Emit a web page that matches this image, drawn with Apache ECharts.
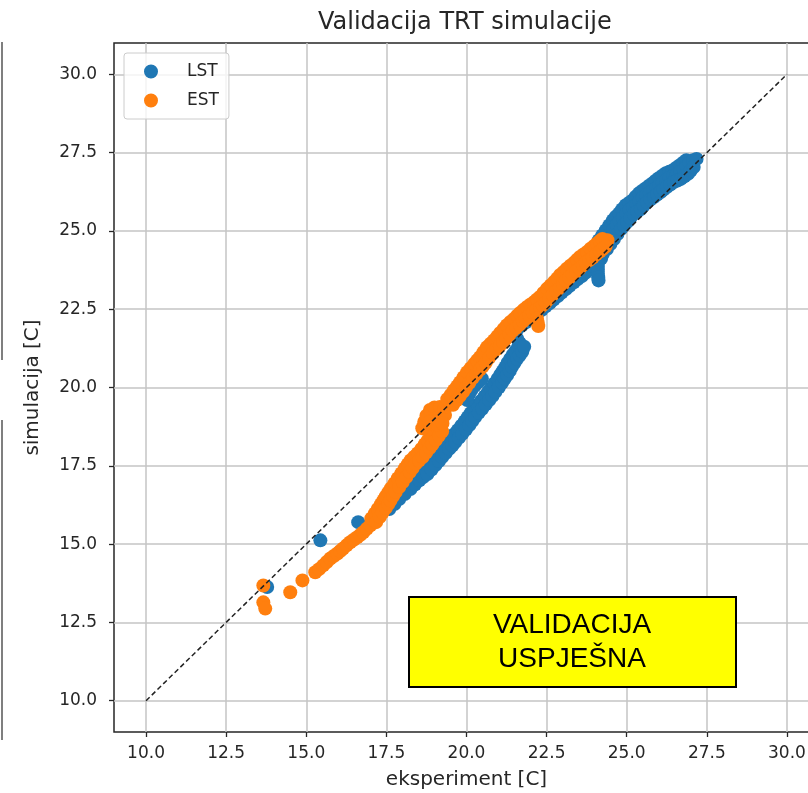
<!DOCTYPE html>
<html>
<head>
<meta charset="utf-8">
<script src="https://cdn.jsdelivr.net/npm/echarts@6/dist/echarts.min.js"></script>
<style>
  html, body { margin: 0; padding: 0; background: #fff; }
  #chart { width: 808px; height: 793px; }
</style>
</head>
<body>
<div id="chart"></div>
<script>
// tick values on both axes
const tickValues = [10, 12.5, 15, 17.5, 20, 22.5, 25, 27.5, 30];

// LST points [eksperiment, simulacija]
const lstSingles = [[13.78, 13.63], [15.44, 15.12], [16.62, 15.70]];
const lstLowerA = [
  [17.45,16.24],[17.61,16.40],[17.76,16.56],[17.93,16.72],[18.11,16.88],[18.25,17.02],[18.39,17.16],
  [18.51,17.26],[18.64,17.36],[18.77,17.50],[18.89,17.64],[19.00,17.77],[19.10,17.90],[19.21,18.03],
  [19.32,18.16],[19.42,18.27],[19.51,18.38],[19.62,18.51],[19.73,18.64],[19.84,18.78],[19.95,18.92],
  [20.04,19.05],[20.13,19.18],[20.24,19.31],[20.35,19.44],[20.46,19.58],[20.57,19.72],[20.67,19.85],
  [20.76,19.98],[20.87,20.13],[20.97,20.27],[21.05,20.40],[21.13,20.52],[21.21,20.65],[21.28,20.78],
  [21.36,20.91],[21.44,21.04],[21.52,21.15],[21.60,21.26],[21.66,21.42],[21.58,21.56]
];
const lstLowerB = [
  [17.59,16.12],[17.75,16.28],[17.90,16.44],[18.07,16.60],[18.25,16.76],[18.39,16.90],[18.53,17.04],
  [18.65,17.14],[18.78,17.24],[18.91,17.38],[19.03,17.52],[19.14,17.65],[19.24,17.78],[19.35,17.91],
  [19.46,18.04],[19.56,18.15],[19.65,18.26],[19.76,18.39],[19.87,18.52],[19.98,18.66],[20.09,18.80],
  [20.18,18.93],[20.27,19.06],[20.38,19.19],[20.49,19.32],[20.60,19.46],[20.71,19.60],[20.81,19.73],
  [20.90,19.86],[21.01,20.01],[21.11,20.15],[21.19,20.28],[21.27,20.40],[21.35,20.53],[21.42,20.66],
  [21.50,20.79],[21.58,20.92],[21.66,21.03],[21.74,21.14],[21.80,21.30]
];
const lstLobe = [[20.02,19.60],[20.08,19.78],[20.15,19.92],[20.25,20.05],[20.38,20.18],[20.48,20.28]];
const lstMiddle = [
  [21.35,21.65],[21.47,21.77],[21.60,21.88],[21.72,21.98],[21.85,22.08],[21.97,22.18],[22.10,22.28],
  [22.22,22.38],[22.35,22.48],[22.47,22.59],[22.60,22.70],[22.72,22.81],[22.85,22.92],[22.97,23.03],
  [23.10,23.14],[23.22,23.25],[23.35,23.36],[23.47,23.46],[23.60,23.56],[23.72,23.67],[23.85,23.78],
  [23.97,23.88],[24.10,23.98],[24.20,24.12],[24.25,24.26]
];
const lstDrop = [[24.10,23.88],[24.10,23.76],[24.10,23.64],[24.11,23.52],[24.12,23.42]];
const lstUpperA = [
  [24.13,24.70],[24.24,24.86],[24.35,25.02],[24.46,25.18],[24.57,25.34],[24.66,25.45],[24.76,25.56],
  [24.86,25.69],[24.97,25.82],[25.08,25.90],[25.19,25.98],[25.28,26.09],[25.38,26.20],[25.49,26.28],
  [25.60,26.36],[25.70,26.44],[25.81,26.52],[25.90,26.60],[26.00,26.68],[26.11,26.76],[26.22,26.84],
  [26.33,26.89],[26.44,26.94],[26.55,27.02],[26.66,27.10],[26.76,27.18],[26.86,27.26]
];
const lstUpperC = [
  [24.25,24.56],[24.36,24.72],[24.47,24.88],[24.58,25.04],[24.69,25.20],[24.78,25.31],[24.88,25.42],
  [24.98,25.55],[25.09,25.68],[25.20,25.76],[25.31,25.84],[25.40,25.95],[25.50,26.06],[25.61,26.14],
  [25.72,26.22],[25.82,26.30],[25.93,26.38],[26.02,26.46],[26.12,26.54],[26.23,26.62],[26.34,26.70],
  [26.45,26.75],[26.56,26.80],[26.67,26.88],[26.78,26.96],[26.87,27.07],[26.96,27.18],[27.07,27.26],
  [27.18,27.30]
];
const lstUpperB = [
  [24.38,24.42],[24.49,24.58],[24.60,24.74],[24.71,24.90],[24.82,25.06],[24.91,25.17],[25.01,25.28],
  [25.11,25.41],[25.22,25.54],[25.33,25.62],[25.44,25.70],[25.53,25.81],[25.63,25.92],[25.74,26.00],
  [25.85,26.08],[25.95,26.16],[26.06,26.24],[26.15,26.32],[26.25,26.40],[26.36,26.48],[26.47,26.56],
  [26.58,26.61],[26.69,26.66],[26.80,26.74],[26.91,26.82],[27.00,26.93],[27.09,27.04]
];

// EST points [eksperiment, simulacija]
const estSingles = [
  [13.66,13.68],[13.66,13.14],[13.72,12.94],[14.50,13.46],[14.88,13.84],[15.28,14.10],
  [15.40,14.20],[15.53,14.32],[15.64,14.43],[15.75,14.54],[15.86,14.62],[15.97,14.70],
  [16.06,14.78],[16.15,14.86],[16.26,14.96]
];
const estLowerC = [
  [16.37,15.06],[16.48,15.14],[16.59,15.22],[16.69,15.30],[16.78,15.38],[16.89,15.49],[17.00,15.60],
  [17.10,15.76],[17.21,15.92],[17.30,16.06],[17.40,16.21],[17.48,16.34],[17.55,16.46],[17.63,16.59],
  [17.71,16.72],[17.82,16.88],[17.93,17.04],[18.04,17.20],[18.15,17.36],[18.24,17.49],[18.33,17.62],
  [18.44,17.73],[18.55,17.84],[18.66,17.98],[18.77,18.13],[18.86,18.25],[18.96,18.38],[19.06,18.52],
  [19.16,18.66]
];
const estLowerA = [
  [17.03,15.82],[17.14,15.98],[17.23,16.12],[17.33,16.27],[17.41,16.40],[17.48,16.52],[17.56,16.65],
  [17.64,16.78],[17.75,16.94],[17.86,17.10],[17.97,17.26],[18.08,17.42],[18.17,17.55],[18.26,17.68],
  [18.37,17.79],[18.48,17.90],[18.59,18.04],[18.70,18.19],[18.79,18.31],[18.89,18.44],[18.99,18.58],
  [19.09,18.72]
];
const estLowerB = [
  [17.18,15.70],[17.29,15.86],[17.38,16.00],[17.48,16.15],[17.56,16.28],[17.63,16.40],[17.71,16.53],
  [17.79,16.66],[17.90,16.82],[18.01,16.98],[18.12,17.14],[18.23,17.30],[18.32,17.43],[18.41,17.56],
  [18.52,17.67],[18.63,17.78],[18.74,17.92],[18.85,18.07],[18.94,18.19],[19.04,18.32],[19.14,18.46],
  [19.24,18.60]
];
const estBlob = [
  [18.62,18.70],[18.68,18.90],[18.75,19.10],[18.86,19.28],[19.00,19.36],[19.17,19.38],[19.30,19.30],
  [19.33,19.12],[19.20,19.00],[19.00,19.00],[18.85,18.90],[19.10,18.80],[19.25,18.85]
];
const estUpperC = [
  [19.38,19.40],[19.49,19.54],[19.60,19.68],[19.70,19.82],[19.80,19.95],[19.89,20.08],[20.00,20.24],
  [20.11,20.40],[20.22,20.53],[20.33,20.66],[20.42,20.77],[20.51,20.88],[20.62,21.04],[20.73,21.20],
  [20.84,21.31],[20.95,21.42],[21.05,21.54],[21.14,21.65],[21.25,21.78],[21.35,21.90],[21.46,22.00],
  [21.57,22.10],[21.67,22.20],[21.76,22.29],[21.87,22.39],[21.98,22.48],[22.09,22.56],[22.20,22.64],
  [22.29,22.72],[22.38,22.80],[22.49,22.93],[22.60,23.06],[22.71,23.17],[22.82,23.28],[22.92,23.39],
  [23.01,23.50],[23.12,23.60],[23.22,23.70],[23.33,23.80],[23.44,23.89],[23.54,23.99],[23.63,24.08],
  [23.74,24.16],[23.85,24.24],[23.96,24.34],[24.07,24.43],[24.16,24.51],[24.25,24.59],[24.33,24.65],
  [24.40,24.70]
];
const estUpperA = [
  [19.40,19.63],[19.51,19.77],[19.61,19.91],[19.71,20.04],[19.80,20.17],[19.91,20.33],[20.02,20.49],
  [20.13,20.62],[20.24,20.75],[20.33,20.86],[20.42,20.97],[20.53,21.13],[20.64,21.29],[20.75,21.40],
  [20.86,21.51],[20.96,21.63],[21.05,21.74],[21.16,21.87],[21.26,21.99],[21.37,22.09],[21.48,22.19],
  [21.58,22.29],[21.67,22.38],[21.78,22.48],[21.89,22.57],[22.00,22.65],[22.11,22.73],[22.20,22.81],
  [22.29,22.89],[22.40,23.02],[22.51,23.15],[22.62,23.26],[22.73,23.37],[22.83,23.48],[22.92,23.59],
  [23.03,23.69],[23.13,23.79],[23.24,23.89],[23.35,23.98],[23.45,24.08],[23.54,24.17],[23.65,24.25],
  [23.76,24.33],[23.87,24.43],[23.98,24.52],[24.07,24.60],[24.16,24.68],[24.24,24.74]
];
const estUpperB = [
  [19.58,19.45],[19.69,19.59],[19.79,19.73],[19.89,19.86],[19.98,19.99],[20.09,20.15],[20.20,20.31],
  [20.31,20.44],[20.42,20.57],[20.51,20.68],[20.60,20.79],[20.71,20.95],[20.82,21.11],[20.93,21.22],
  [21.04,21.33],[21.14,21.45],[21.23,21.56],[21.34,21.69],[21.44,21.81],[21.55,21.91],[21.66,22.01],
  [21.76,22.11],[21.85,22.20],[21.96,22.30],[22.07,22.39],[22.18,22.47],[22.29,22.55],[22.38,22.63],
  [22.47,22.71],[22.58,22.84],[22.69,22.97],[22.80,23.08],[22.91,23.19],[23.01,23.30],[23.10,23.41],
  [23.21,23.51],[23.31,23.61],[23.42,23.71],[23.53,23.80],[23.63,23.90],[23.72,23.99],[23.83,24.07],
  [23.94,24.15],[24.05,24.25],[24.16,24.34],[24.25,24.42],[24.34,24.50]
];
const estDrop = [[22.20,22.20],[22.22,22.08],[22.24,21.96]];

// diagonal reference line
const idealLine = [[10, 10], [30, 30]];

const lstData = [].concat(lstSingles, lstLowerA, lstLowerB, lstLobe, lstMiddle, lstDrop, lstUpperA, lstUpperC, lstUpperB);
const estData = [].concat(estSingles, estLowerC, estLowerA, estLowerB, estBlob, estUpperC, estUpperA, estUpperB, estDrop);

const chart = echarts.init(document.getElementById('chart'));
const font = 'DejaVu Sans';

// legend marker: a dot in the left part of a wider icon box, so the label sits further right
const legendDot = 'path://M14,7A7,7 0 1 1 28,7A7,7 0 1 1 14,7ZM0,0L0.01,0L0,0.01ZM52,14L51.99,14L52,13.99Z';

chart.setOption({
  animation: false,
  backgroundColor: '#ffffff',
  title: {
    text: 'Validacija TRT simulacije',
    left: 318, top: 11, padding: 0,
    textStyle: { fontFamily: font, fontSize: 24, fontWeight: 'normal', color: '#262626' }
  },
  legend: {
    orient: 'vertical',
    left: 124, top: 53,
    padding: [10, 10, 10, 6],
    itemWidth: 52, itemHeight: 14, itemGap: 12,
    backgroundColor: 'rgba(255,255,255,0.8)',
    borderColor: '#cccccc', borderWidth: 1, borderRadius: 3,
    data: [{ name: 'LST', icon: legendDot }, { name: 'EST', icon: legendDot }],
    textStyle: { fontFamily: font, fontSize: 17, color: '#262626' }
  },
  grid: {
    left: 114, top: 43, width: 705, height: 689,
    outerBoundsMode: 'none', containLabel: false,
    show: true, borderColor: '#262626', borderWidth: 1.5, backgroundColor: 'transparent'
  },
  xAxis: {
    type: 'value', min: 9, max: 31,
    name: 'eksperiment [C]', nameLocation: 'middle', nameGap: 38,
    nameTextStyle: { fontFamily: font, fontSize: 20, color: '#262626' },
    axisLine: { show: false },
    axisTick: { show: true, length: 5, customValues: tickValues, lineStyle: { color: '#262626', width: 1.3 } },
    axisLabel: {
      customValues: tickValues, margin: 13, fontFamily: font, fontSize: 17, color: '#262626',
      formatter: v => v.toFixed(1)
    },
    splitLine: { show: true, lineStyle: { color: '#c4c4c4', width: 1.5 } }
  },
  yAxis: {
    type: 'value', min: 9, max: 31,
    name: 'simulacija [C]', nameLocation: 'middle', nameGap: 71,
    nameTextStyle: { fontFamily: font, fontSize: 20, color: '#262626' },
    axisLine: { show: false },
    axisTick: { show: true, length: 5, customValues: tickValues, lineStyle: { color: '#262626', width: 1.3 } },
    axisLabel: {
      customValues: tickValues, margin: 17, fontFamily: font, fontSize: 17, color: '#262626',
      formatter: v => v.toFixed(1)
    },
    splitLine: { show: true, lineStyle: { color: '#c4c4c4', width: 1.5 } }
  },
  series: [
    {
      name: 'LST', type: 'scatter', data: lstData,
      symbolSize: 14, itemStyle: { color: '#1f77b4', opacity: 1 }, z: 2
    },
    {
      name: 'EST', type: 'scatter', data: estData,
      symbolSize: 14, itemStyle: { color: '#ff7f0e', opacity: 1 }, z: 3
    },
    {
      name: 'ideal', type: 'line', data: idealLine, symbol: 'none', z: 4,
      lineStyle: { color: '#222222', width: 1.5, type: [5, 3] }
    }
  ],
  graphic: [
    { type: 'line', shape: { x1: 2, y1: 42, x2: 2, y2: 360 }, style: { stroke: '#555', lineWidth: 1.5 } },
    { type: 'line', shape: { x1: 2, y1: 420, x2: 2, y2: 740 }, style: { stroke: '#555', lineWidth: 1.5 } },
    {
      type: 'rect', z: 100,
      shape: { x: 409, y: 597, width: 327, height: 90 },
      style: { fill: '#ffff00', stroke: '#000000', lineWidth: 2 }
    },
    {
      type: 'text', z: 101, x: 572, y: 642,
      style: {
        text: 'VALIDACIJA\nUSPJEŠNA', fill: '#000000',
        font: '28px "Liberation Sans", Arial, sans-serif',
        textAlign: 'center', textVerticalAlign: 'middle', lineHeight: 34
      }
    }
  ]
});
</script>
</body>
</html>
